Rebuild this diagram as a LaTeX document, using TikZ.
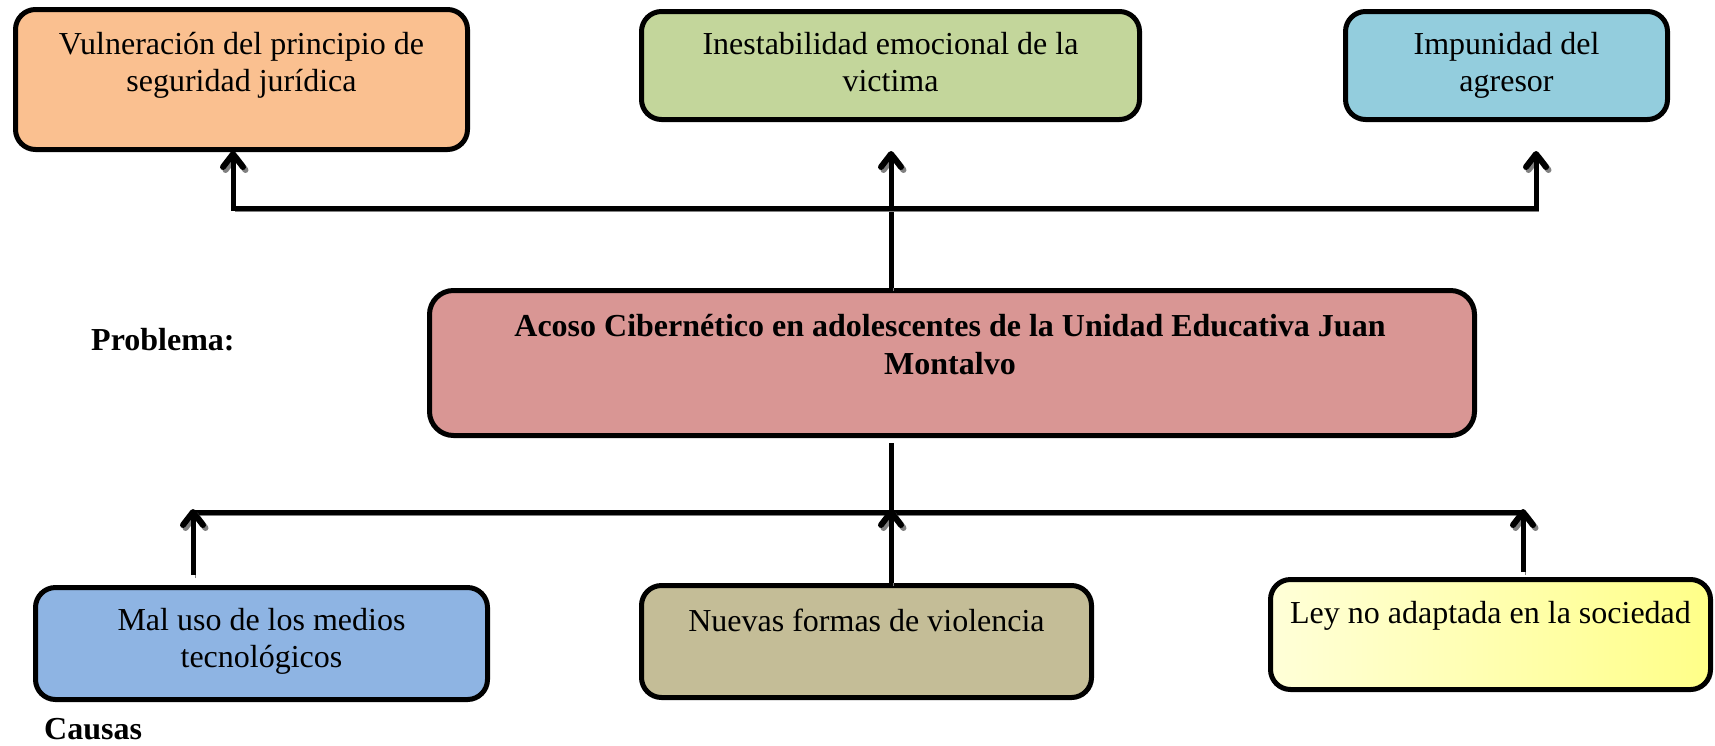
\documentclass[tikz,border=0pt]{standalone}
\usepackage{fontspec}
\setmainfont{Liberation Serif}
\usetikzlibrary{decorations.markings}
\definecolor{corange}{HTML}{FAC090}
\definecolor{cgreen}{HTML}{C3D69B}
\definecolor{caqua}{HTML}{93CDDD}
\definecolor{cprob}{HTML}{D99694}
\definecolor{cblue}{HTML}{8EB4E3}
\definecolor{ctan}{HTML}{C4BD97}
\definecolor{cylo}{HTML}{FFFFD8}
\definecolor{cyhi}{HTML}{FFFF88}
\begin{document}
\begin{tikzpicture}[x=1pt,y=-1pt,
  box/.style={draw=black, line width=5pt, rounded corners=20pt, inner sep=0pt},
  txt/.style={font=\fontsize{32}{37}\selectfont, align=center, inner sep=0pt, anchor=base},
  btxt/.style={txt, font=\fontsize{32}{38}\selectfont\bfseries},
  conn/.style={line width=5pt, draw=black, preaction={draw=black!50, transform canvas={shift={(2.5pt,-3pt)}}}},
  barbshape/.style={line width=6pt, line cap=round, line join=round},
  tip/.style={
    preaction={decorate, decoration={markings, mark=at position 1 with {\draw[barbshape, black!50, shift={(-3pt,-2.5pt)}] (-13pt,10pt) -- (0pt,0pt) -- (-13pt,-10pt);}}},
    postaction={decorate, decoration={markings, mark=at position 1 with {\draw[barbshape, black] (-13pt,10pt) -- (0pt,0pt) -- (-13pt,-10pt);}}}},
  tipstart/.style={
    preaction={decorate, decoration={markings, mark=at position 0 with {\draw[barbshape, black!50, shift={(3pt,2.5pt)}] (13pt,10pt) -- (0pt,0pt) -- (13pt,-10pt);}}},
    postaction={decorate, decoration={markings, mark=at position 0 with {\draw[barbshape, black] (13pt,10pt) -- (0pt,0pt) -- (13pt,-10pt);}}}}]
\fill[white] (0,0) rectangle (1715,745);
\useasboundingbox (0,0) rectangle (1715,745);

% effects (multi-line text: base = last line baseline)
\node[box, fill=corange, minimum width=452pt, minimum height=140pt] (c1) at (241.5,79.5) {};
\node[txt] (c1t) at (241.5,91) {Vulneración del principio de\\seguridad jurídica};
\node[box, fill=cgreen, minimum width=498pt, minimum height=108pt] (c2) at (890.5,65.5) {};
\node[txt] (c2t) at (890.5,91) {Inestabilidad emocional de la\\victima};
\node[box, fill=caqua, minimum width=322pt, minimum height=108pt] (c3) at (1506.5,65.5) {};
\node[txt] (c3t) at (1506.5,91) {Impunidad del\\agresor};

% problem
\node[box, fill=cprob, rounded corners=24pt, minimum width=1045pt, minimum height=145pt] (prob) at (952,363) {};
\node[btxt] (probt) at (950,374) {Acoso Cibernético en adolescentes de la Unidad Educativa Juan\\Montalvo};
\node[btxt, anchor=base west] (problab) at (91,350) {Problema:};

% causes
\node[box, fill=cblue, minimum width=452pt, minimum height=112pt] (e1) at (261.5,643.5) {};
\node[txt] (e1t) at (261.5,667) {Mal uso de los medios\\tecnológicos};
\node[box, fill=ctan, minimum width=450pt, minimum height=112pt] (e2) at (866.5,641.5) {};
\node[txt] (e2t) at (866.5,631) {Nuevas formas de violencia};
\node[box, left color=cylo, right color=cyhi, minimum width=440pt, minimum height=110pt] (e3) at (1490.5,634.5) {};
\node[txt] (e3t) at (1490.5,623) {Ley no adaptada en la sociedad};
\node[btxt, anchor=base west] (causlab) at (44,739) {Causas};

% junctions
\coordinate (jt) at (891,208);
\coordinate (jtl) at (233,208);
\coordinate (jtr) at (1536,208);
\coordinate (jb) at (891,512);
\coordinate (jbl) at (193,512);
\coordinate (jbr) at (1523,512);

% top connectors
\draw[conn, tip] (prob.north -| jt) -- ([yshift=-32pt]c2.south -| jt);
\draw[conn, tip, tipstart] ([yshift=-2pt]c1.south -| jtl) -- (jtl) -- (jtr) -- ([yshift=-32pt]c3.south -| jtr);

% bottom connectors
\draw[conn] (jbl) -- (jbr);
\draw[conn] ([yshift=-5pt]prob.south -| jb) -- (jb);
\draw[conn, tip] ([yshift=10pt]e1.north -| jbl) -- (jbl);
\draw[conn, tip] (e2.north -| jb) -- (jb);
\draw[conn, tip] ([yshift=5pt]e3.north -| jbr) -- (jbr);
\end{tikzpicture}
\end{document}
